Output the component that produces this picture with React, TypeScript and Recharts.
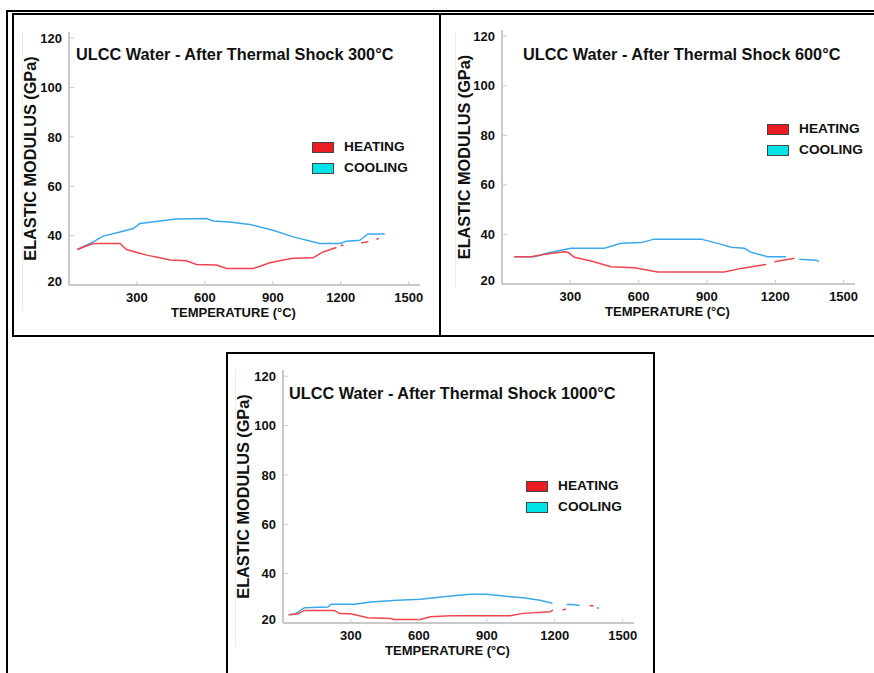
import React from "react";
import { LineChart, Line, XAxis, YAxis, Legend, Label } from "recharts";

type Pt = { t: number; e: number | null };

// elastic modulus (GPa) vs temperature (°C); null = gap in the trace
const heating300: Pt[] = [
  { t: 37, e: 34.4 }, { t: 70, e: 35.6 }, { t: 107, e: 36.8 }, { t: 225, e: 36.8 },
  { t: 254, e: 34.4 }, { t: 300, e: 33.2 }, { t: 343, e: 32.1 }, { t: 401, e: 31.0 },
  { t: 446, e: 30.1 }, { t: 519, e: 29.8 }, { t: 563, e: 28.3 }, { t: 651, e: 28.1 },
  { t: 696, e: 26.7 }, { t: 813, e: 26.7 }, { t: 850, e: 27.8 }, { t: 887, e: 29.0 },
  { t: 940, e: 30.0 }, { t: 990, e: 30.8 }, { t: 1078, e: 31.0 }, { t: 1122, e: 33.4 },
  { t: 1181, e: 35.2 }, { t: 1192, e: null }, { t: 1200, e: 35.9 }, { t: 1212, e: 36.2 },
  { t: 1250, e: null }, { t: 1290, e: 37.0 }, { t: 1322, e: 37.5 }, { t: 1340, e: null },
  { t: 1358, e: 38.4 }, { t: 1368, e: 39.0 },
];
const cooling300: Pt[] = [
  { t: 37, e: 34.4 }, { t: 107, e: 37.5 }, { t: 151, e: 39.8 }, { t: 225, e: 41.5 },
  { t: 284, e: 42.9 }, { t: 313, e: 44.9 }, { t: 401, e: 45.9 }, { t: 475, e: 46.7 },
  { t: 607, e: 46.9 }, { t: 637, e: 45.9 }, { t: 710, e: 45.5 }, { t: 799, e: 44.5 },
  { t: 901, e: 42.2 }, { t: 990, e: 39.5 }, { t: 1107, e: 36.8 }, { t: 1196, e: 36.8 },
  { t: 1225, e: 37.7 }, { t: 1284, e: 38.1 }, { t: 1321, e: 40.7 }, { t: 1394, e: 40.7 },
];

const heating600: Pt[] = [
  { t: 54, e: 31.0 }, { t: 127, e: 31.0 }, { t: 186, e: 32.0 }, { t: 274, e: 33.0 },
  { t: 289, e: 32.8 }, { t: 318, e: 30.8 }, { t: 391, e: 29.3 }, { t: 479, e: 27.0 },
  { t: 581, e: 26.6 }, { t: 684, e: 24.8 }, { t: 976, e: 24.8 }, { t: 1050, e: 26.3 },
  { t: 1160, e: 27.9 }, { t: 1178, e: null }, { t: 1196, e: 29.0 }, { t: 1284, e: 30.4 },
];
const cooling600: Pt[] = [
  { t: 54, e: 31.0 }, { t: 142, e: 31.0 }, { t: 215, e: 32.8 }, { t: 303, e: 34.4 },
  { t: 449, e: 34.4 }, { t: 523, e: 36.4 }, { t: 611, e: 36.7 }, { t: 668, e: 38.1 },
  { t: 874, e: 38.1 }, { t: 947, e: 36.4 }, { t: 1006, e: 34.8 }, { t: 1064, e: 34.4 },
  { t: 1094, e: 32.8 }, { t: 1167, e: 31.0 }, { t: 1247, e: 31.0 }, { t: 1280, e: null },
  { t: 1305, e: 30.0 }, { t: 1365, e: 29.7 }, { t: 1379, e: 29.6 }, { t: 1391, e: 29.0 },
];

const heating1000: Pt[] = [
  { t: 25, e: 23.3 }, { t: 66, e: 23.7 }, { t: 95, e: 25.1 }, { t: 227, e: 25.1 },
  { t: 249, e: 23.8 }, { t: 300, e: 23.7 }, { t: 373, e: 22.1 }, { t: 476, e: 21.8 },
  { t: 490, e: 21.4 }, { t: 607, e: 21.4 }, { t: 651, e: 22.5 }, { t: 739, e: 22.9 },
  { t: 1003, e: 22.9 }, { t: 1061, e: 23.9 }, { t: 1179, e: 24.6 }, { t: 1193, e: 25.2 },
  { t: 1212, e: null }, { t: 1234, e: 25.2 }, { t: 1249, e: 25.7 }, { t: 1300, e: null },
  { t: 1354, e: 27.0 }, { t: 1372, e: 27.0 },
];
const cooling1000: Pt[] = [
  { t: 25, e: 23.3 }, { t: 51, e: 23.5 }, { t: 95, e: 26.2 }, { t: 198, e: 26.5 },
  { t: 212, e: 27.6 }, { t: 314, e: 27.6 }, { t: 388, e: 28.5 }, { t: 505, e: 29.2 },
  { t: 607, e: 29.6 }, { t: 739, e: 30.9 }, { t: 827, e: 31.6 }, { t: 900, e: 31.6 },
  { t: 973, e: 30.9 }, { t: 1061, e: 30.2 }, { t: 1135, e: 29.2 }, { t: 1190, e: 28.0 },
  { t: 1220, e: null }, { t: 1252, e: 27.5 }, { t: 1280, e: 27.5 }, { t: 1310, e: 27.1 },
  { t: 1350, e: null }, { t: 1385, e: 26.2 }, { t: 1395, e: 26.0 },
];

const tempTicks = [300, 600, 900, 1200, 1500];
const modulusTicks = [20, 40, 60, 80, 100, 120];
const seriesNames = ["HEATING", "COOLING"];
const legendColors = ["#ed1c24", "#00e4e8"];
const lineColors = ["#ef4550", "#3ca8e8"];

const FONT = '"Liberation Sans", Arial, sans-serif';
const AXIS = "#c9c9c9";
const INK = "#111";

function YTick(props: any) {
  const { x, y, payload } = props;
  const lift = payload.value === 20 ? -4 : 0;
  return (
    <g>
      {payload.value !== 20 && (
        <line x1={x + 8} x2={x + 12} y1={y} y2={y} stroke={AXIS} strokeWidth={1} />
      )}
      <text
        x={x}
        y={y + lift}
        dy="0.355em"
        textAnchor="end"
        fill={INK}
        fontSize={13}
        fontWeight="bold"
        fontFamily={FONT}
      >
        {payload.value}
      </text>
    </g>
  );
}

function XTick(props: any) {
  const { x, y, payload } = props;
  return (
    <g>
      <line x1={x} x2={x} y1={y - 12} y2={y - 8} stroke={AXIS} strokeWidth={1} />
      <text
        x={x}
        y={y}
        dy="0.71em"
        textAnchor="middle"
        fill={INK}
        fontSize={13}
        fontWeight="bold"
        fontFamily={FONT}
      >
        {payload.value}
      </text>
    </g>
  );
}

function LegendBox() {
  return (
    <div style={{ fontFamily: FONT, fontWeight: "bold", fontSize: 13.7, color: INK }}>
      {seriesNames.map((name, i) => (
        <div key={name} style={{ display: "flex", alignItems: "center", height: 21 }}>
          <span
            style={{
              display: "inline-block",
              width: 22,
              height: 11,
              boxSizing: "border-box",
              background: legendColors[i],
              border: "1px solid #444",
              marginRight: 10,
            }}
          />
          <span style={{ lineHeight: 1, whiteSpace: "nowrap" }}>{name}</span>
        </div>
      ))}
    </div>
  );
}

interface PanelProps {
  title: string;
  heating: Pt[];
  cooling: Pt[];
  left: number;
  top: number;
  plotW: number;
  plotH: number;
  titleX: number;
  titleY: number;
  legendX: number;
  legendY: number;
  yTitleOffset: number;
}

function Panel(p: PanelProps) {
  const yw = 49;
  const mt = 12;
  const xh = 40;
  const width = yw + p.plotW + 10;
  const height = mt + p.plotH + xh;
  return (
    <>
      <div
        style={{
          position: "absolute",
          left: p.titleX,
          top: p.titleY - 8.15,
          fontFamily: FONT,
          fontWeight: "bold",
          fontSize: 16.3,
          lineHeight: 1,
          color: INK,
          whiteSpace: "nowrap",
        }}
      >
        {p.title}
      </div>
      <div style={{ position: "absolute", left: p.left, top: p.top }}>
        <LineChart width={width} height={height} margin={{ top: mt, right: 10, bottom: 0, left: 0 }}>
          <XAxis
            type="number"
            dataKey="t"
            domain={[0, 1550]}
            ticks={tempTicks}
            height={xh}
            tickSize={0}
            tickMargin={8}
            tickLine={false}
            axisLine={{ stroke: AXIS, strokeWidth: 2 }}
            tick={<XTick />}
            allowDuplicatedCategory={false}
          >
            <Label
              value="TEMPERATURE (°C)"
              position="insideBottom"
              offset={8.4}
              dx={-11}
              style={{ fontFamily: FONT, fontWeight: "bold", fontSize: 13, fill: INK }}
            />
          </XAxis>
          <YAxis
            type="number"
            domain={[20, 122.5]}
            ticks={modulusTicks}
            width={yw}
            tickSize={0}
            tickMargin={7}
            tickLine={false}
            axisLine={{ stroke: AXIS, strokeWidth: 2 }}
            tick={<YTick />}
          >
            <Label
              value="ELASTIC MODULUS (GPa)"
              position="insideLeft"
              angle={-90}
              offset={p.yTitleOffset}
              style={{ textAnchor: "middle", fontFamily: FONT, fontWeight: "bold", fontSize: 16.3, fill: INK }}
            />
          </YAxis>
          <Legend
            layout="vertical"
            align="center"
            verticalAlign="middle"
            content={<LegendBox />}
            wrapperStyle={{ left: p.legendX - p.left, top: p.legendY - p.top, width: "auto", margin: 0 }}
          />
          <Line
            data={p.cooling}
            dataKey="e"
            name={seriesNames[1]}
            stroke={lineColors[1]}
            strokeWidth={1.5}
            dot={false}
            activeDot={false}
            type="linear"
            isAnimationActive={false}
          />
          <Line
            data={p.heating}
            dataKey="e"
            name={seriesNames[0]}
            stroke={lineColors[0]}
            strokeWidth={1.5}
            dot={false}
            activeDot={false}
            type="linear"
            isAnimationActive={false}
          />
        </LineChart>
      </div>
    </>
  );
}

const box = (s: React.CSSProperties): React.CSSProperties => ({
  position: "absolute",
  boxSizing: "border-box",
  ...s,
});

export default function App() {
  return (
    <div
      style={{
        position: "absolute",
        left: 0,
        top: 0,
        width: 874,
        height: 673,
        overflow: "hidden",
        background: "#fff",
      }}
    >
      {/* frames */}
      <div style={box({ left: 6, top: 10, width: 2, height: 663, background: "#000" })} />
      <div style={box({ left: 6, top: 10, width: 868, height: 2, background: "#000" })} />
      <div style={box({ left: 12, top: 13, width: 880, height: 324, border: "2px solid #000" })} />
      <div style={box({ left: 439, top: 13, width: 2, height: 324, background: "#000" })} />
      <div style={box({ left: 226, top: 352, width: 429, height: 340, border: "2px solid #000" })} />

      {/* faint guide lines */}
      <div style={box({ left: 22, top: 32, width: 1, height: 278, background: "#ececec" })} />
      <div style={box({ left: 455, top: 32, width: 1, height: 256, background: "#ececec" })} />
      <div style={box({ left: 235, top: 370, width: 1, height: 277, background: "#ececec" })} />

      <Panel
        title="ULCC Water - After Thermal Shock 300°C"
        heating={heating300}
        cooling={cooling300}
        left={20}
        top={20}
        plotW={351}
        plotH={253}
        titleX={76}
        titleY={54.5}
        legendX={312}
        legendY={136.5}
        yTitleOffset={10.5}
      />
      <Panel
        title="ULCC Water - After Thermal Shock 600°C"
        heating={heating600}
        cooling={cooling600}
        left={453}
        top={18}
        plotW={353}
        plotH={254}
        titleX={523}
        titleY={54.5}
        legendX={767}
        legendY={118.5}
        yTitleOffset={11.5}
      />
      <Panel
        title="ULCC Water - After Thermal Shock 1000°C"
        heating={heating1000}
        cooling={cooling1000}
        left={234}
        top={358}
        plotW={351}
        plotH={253}
        titleX={289}
        titleY={393.3}
        legendX={526}
        legendY={475.5}
        yTitleOffset={9.7}
      />
    </div>
  );
}
